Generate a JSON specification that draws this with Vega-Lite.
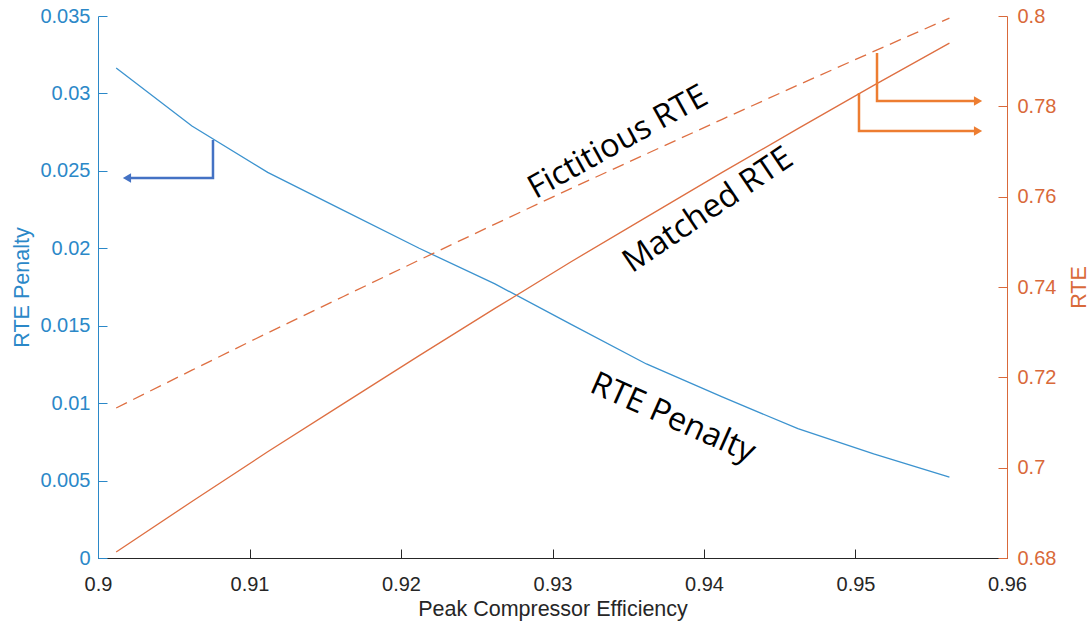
{
  "$schema": "https://vega.github.io/schema/vega-lite/v6.json",
  "width": 909,
  "height": 542,
  "autosize": {"type": "none"},
  "padding": {"left": 98, "top": 16, "right": 84, "bottom": 68},
  "background": "white",
  "config": {
    "view": {"stroke": null},
    "font": "Liberation Sans",
    "axis": {"grid": false, "titleFontWeight": "normal", "tickSize": -9, "labelFontSize": 20, "titleFontSize": 21.5, "tickWidth": 1, "domainWidth": 1, "labelFlush": false, "labelOverlap": false}
  },
  "datasets": {
    "penalty": [
      {"eff": 0.9012, "val": 0.03164},
      {"eff": 0.9062, "val": 0.0279},
      {"eff": 0.9112, "val": 0.0249},
      {"eff": 0.9162, "val": 0.02245},
      {"eff": 0.9212, "val": 0.02},
      {"eff": 0.9262, "val": 0.0177},
      {"eff": 0.9312, "val": 0.0151},
      {"eff": 0.9362, "val": 0.01253},
      {"eff": 0.9412, "val": 0.0104},
      {"eff": 0.9462, "val": 0.00835},
      {"eff": 0.9512, "val": 0.00672},
      {"eff": 0.9562, "val": 0.00523}
    ],
    "rte": [
      {"eff": 0.9012, "val": 0.68133, "series": "matched"},
      {"eff": 0.9062, "val": 0.69251, "series": "matched"},
      {"eff": 0.9112, "val": 0.70351, "series": "matched"},
      {"eff": 0.9162, "val": 0.71418, "series": "matched"},
      {"eff": 0.9212, "val": 0.72481, "series": "matched"},
      {"eff": 0.9262, "val": 0.73526, "series": "matched"},
      {"eff": 0.9312, "val": 0.74554, "series": "matched"},
      {"eff": 0.9362, "val": 0.75548, "series": "matched"},
      {"eff": 0.9412, "val": 0.76537, "series": "matched"},
      {"eff": 0.9462, "val": 0.77507, "series": "matched"},
      {"eff": 0.9512, "val": 0.78463, "series": "matched"},
      {"eff": 0.9562, "val": 0.79398, "series": "matched"},
      {"eff": 0.9012, "val": 0.71321, "series": "fictitious"},
      {"eff": 0.9062, "val": 0.72158, "series": "fictitious"},
      {"eff": 0.9112, "val": 0.72984, "series": "fictitious"},
      {"eff": 0.9162, "val": 0.7379, "series": "fictitious"},
      {"eff": 0.9212, "val": 0.74596, "series": "fictitious"},
      {"eff": 0.9262, "val": 0.75393, "series": "fictitious"},
      {"eff": 0.9312, "val": 0.76179, "series": "fictitious"},
      {"eff": 0.9362, "val": 0.76947, "series": "fictitious"},
      {"eff": 0.9412, "val": 0.77713, "series": "fictitious"},
      {"eff": 0.9462, "val": 0.7847, "series": "fictitious"},
      {"eff": 0.9512, "val": 0.79216, "series": "fictitious"},
      {"eff": 0.9562, "val": 0.79953, "series": "fictitious"}
    ],
    "blueArrow": [
      {"eff": 0.90759, "val": 0.02699, "ord": 1},
      {"eff": 0.90759, "val": 0.02454, "ord": 2},
      {"eff": 0.90191, "val": 0.02454, "ord": 3}
    ],
    "orangeArrows": [
      {"eff": 0.95142, "val": 0.79181, "ord": 1, "arrow": "a"},
      {"eff": 0.95142, "val": 0.78118, "ord": 2, "arrow": "a"},
      {"eff": 0.95809, "val": 0.78118, "ord": 3, "arrow": "a"},
      {"eff": 0.95023, "val": 0.78295, "ord": 1, "arrow": "b"},
      {"eff": 0.95023, "val": 0.77454, "ord": 2, "arrow": "b"},
      {"eff": 0.95809, "val": 0.77454, "ord": 3, "arrow": "b"}
    ],
    "labels": [
      {"eff": 0.93432, "val": 0.02686, "label": "Fictitious RTE"},
      {"eff": 0.94026, "val": 0.02247, "label": "Matched RTE"},
      {"eff": 0.93795, "val": 0.00904, "label": "RTE Penalty"}
    ]
  },
  "encoding": {
    "x": {
      "field": "eff",
      "type": "quantitative",
      "scale": {"domain": [0.9, 0.96], "nice": false, "zero": false},
      "axis": {
        "title": "Peak Compressor Efficiency",
        "values": [0.9, 0.91, 0.92, 0.93, 0.94, 0.95, 0.96],
        "format": "~g",
        "labelColor": "#262626",
        "domainColor": "#262626",
        "tickColor": "#262626",
        "titleColor": "#262626",
        "labelPadding": 25,
        "titleX": 454.5,
        "titleY": 51,
        "titleBaseline": "middle",
        "titleAlign": "center"
      }
    }
  },
  "layer": [
    {
      "encoding": {
        "y": {
          "field": "val",
          "type": "quantitative",
          "scale": {"domain": [0, 0.035], "nice": false, "zero": false},
          "axis": {
            "orient": "left",
            "title": "RTE Penalty",
            "values": [0, 0.005, 0.01, 0.015, 0.02, 0.025, 0.03, 0.035],
            "format": "~g",
            "labelColor": "#2B88C8",
            "domainColor": "#2B88C8",
            "tickColor": "#2B88C8",
            "titleColor": "#2B88C8",
            "labelPadding": 17,
            "titleX": -76,
            "titleY": 271,
            "titleAngle": 270,
            "titleBaseline": "middle",
            "titleAlign": "center"
          }
        }
      },
      "layer": [
        {
          "data": {"name": "penalty"},
          "mark": {"type": "line", "color": "#3C93CF", "strokeWidth": 1.3}
        },
        {
          "data": {"name": "blueArrow"},
          "mark": {"type": "line", "color": "#4472C4", "strokeWidth": 2.5, "strokeJoin": "miter"},
          "encoding": {"order": {"field": "ord", "type": "quantitative"}}
        },
        {
          "data": {"name": "blueArrow"},
          "transform": [{"filter": "datum.ord == 3"}],
          "mark": {"type": "point", "shape": "triangle-left", "filled": true, "color": "#4472C4", "size": 90, "opacity": 1}
        },
        {
          "data": {"name": "labels"},
          "transform": [{"filter": "datum.label == 'Fictitious RTE'"}],
          "mark": {"type": "text", "font": "Open Sans", "fontSize": 32.5, "color": "#000000", "angle": 331, "align": "center", "baseline": "middle"},
          "encoding": {"text": {"field": "label"}}
        },
        {
          "data": {"name": "labels"},
          "transform": [{"filter": "datum.label == 'Matched RTE'"}],
          "mark": {"type": "text", "font": "Open Sans", "fontSize": 32.5, "color": "#000000", "angle": 326, "align": "center", "baseline": "middle"},
          "encoding": {"text": {"field": "label"}}
        },
        {
          "data": {"name": "labels"},
          "transform": [{"filter": "datum.label == 'RTE Penalty'"}],
          "mark": {"type": "text", "font": "Open Sans", "fontSize": 32.5, "color": "#000000", "angle": 24, "align": "center", "baseline": "middle"},
          "encoding": {"text": {"field": "label"}}
        }
      ]
    },
    {
      "encoding": {
        "y": {
          "field": "val",
          "type": "quantitative",
          "scale": {"domain": [0.68, 0.8], "nice": false, "zero": false},
          "axis": {
            "orient": "right",
            "title": "RTE",
            "values": [0.68, 0.7, 0.72, 0.74, 0.76, 0.78, 0.8],
            "format": "~g",
            "labelColor": "#D9693A",
            "domainColor": "#D9693A",
            "tickColor": "#D9693A",
            "titleColor": "#D9693A",
            "labelPadding": 19,
            "titleX": 72,
            "titleY": 271,
            "titleAngle": 270,
            "titleBaseline": "middle",
            "titleAlign": "center"
          }
        }
      },
      "layer": [
        {
          "data": {"name": "rte"},
          "transform": [{"filter": "datum.series == 'matched'"}],
          "mark": {"type": "line", "color": "#DE6F42", "strokeWidth": 1.3}
        },
        {
          "data": {"name": "rte"},
          "transform": [{"filter": "datum.series == 'fictitious'"}],
          "mark": {"type": "line", "color": "#DE6F42", "strokeWidth": 1.3, "strokeDash": [12, 7]}
        },
        {
          "data": {"name": "orangeArrows"},
          "mark": {"type": "line", "color": "#ED7D31", "strokeWidth": 2.5, "strokeJoin": "miter"},
          "encoding": {
            "detail": {"field": "arrow"},
            "order": {"field": "ord", "type": "quantitative"}
          }
        },
        {
          "data": {"name": "orangeArrows"},
          "transform": [{"filter": "datum.ord == 3"}],
          "mark": {"type": "point", "shape": "triangle-right", "filled": true, "color": "#ED7D31", "size": 90, "opacity": 1}
        }
      ]
    }
  ],
  "resolve": {"scale": {"y": "independent"}}
}
